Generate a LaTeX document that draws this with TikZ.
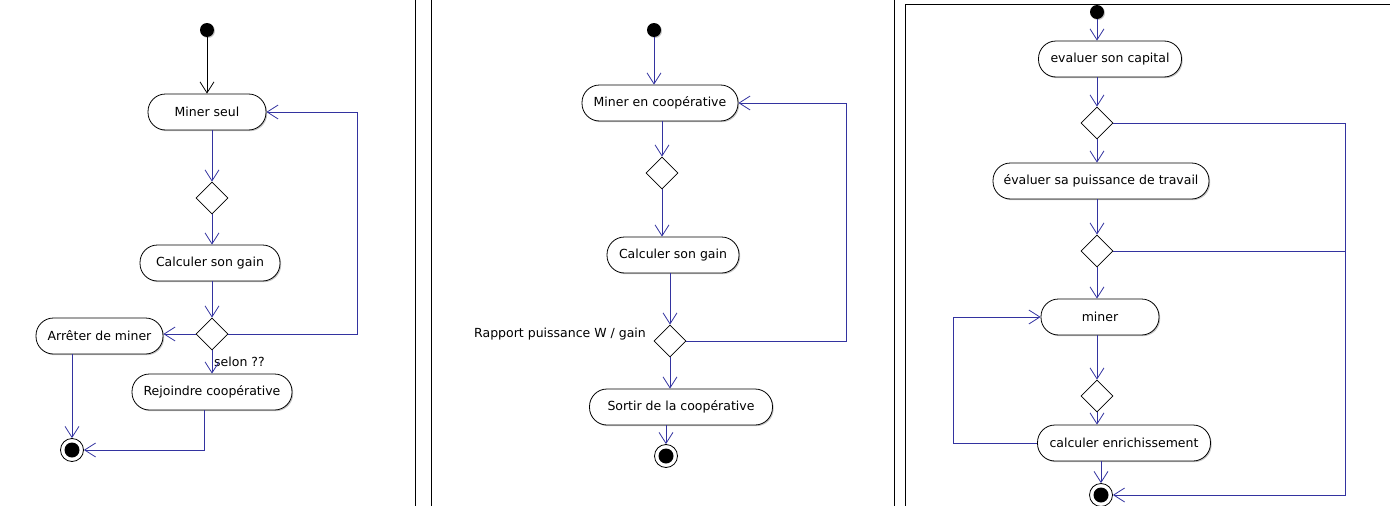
\documentclass[tikz,border=0pt]{standalone}
\usepackage{fontspec}
\setmainfont{DejaVu Sans}
\usetikzlibrary{arrows.meta,shapes.geometric,shadows}
\definecolor{flowblue}{RGB}{51,51,160}
\tikzset{
  act/.style={draw=black, line width=0.8pt, fill=white, rounded corners=17.5pt,
    minimum height=36pt, inner sep=0pt, font=\fontsize{12.5}{14}\selectfont,
    drop shadow={shadow xshift=1.2pt, shadow yshift=-1.2pt, fill=black!45, opacity=0.5}},
  dec/.style={diamond, draw=black, line width=0.8pt, fill=white,
    minimum width=32pt, minimum height=32pt, inner sep=0pt},
  initn/.style={circle, fill=black, minimum size=14pt, inner sep=0pt,
    drop shadow={shadow xshift=1pt, shadow yshift=-1pt, fill=black!45, opacity=0.5}},
  finaln/.style={circle, draw=black, fill=white, line width=0.8pt, minimum size=23pt, inner sep=0pt,
    path picture={\fill[black] (path picture bounding box.center) circle (7.5pt);}},
  flow/.style={draw=flowblue, line width=0.8pt, -{Straight Barb[length=11pt,width=14pt]}},
  flowk/.style={draw=black, line width=0.8pt, -{Straight Barb[length=11pt,width=14pt]}},
  plainflow/.style={draw=flowblue, line width=0.8pt},
  panel/.style={draw=black, line width=1pt},
  lbl/.style={font=\fontsize{12.5}{14}\selectfont, inner sep=0pt}
}
\begin{document}
\begin{tikzpicture}[x=1pt,y=-1pt]
\useasboundingbox (0,0) rectangle (1390,506);
% panel lines
\draw[panel] (415,0) -- (415,506);
\draw[panel] (431,0) -- (431,506);
\draw[panel] (894,0) -- (894,506);
\draw[panel] (905,506) -- (905,4) -- (1390,4);

% ---------- left panel
\node[initn] (i1) at (207,30) {};
\node[act, minimum width=118pt] (ms) at (207,112) {Miner seul};
\node[dec] (d1) at (212,198) {};
\node[act, minimum width=140pt] (cg) at (210,263) {Calculer son gain};
\node[dec] (d2) at (212,334) {};
\node[act, minimum width=127pt] (am) at (99.5,336) {Arrêter de miner};
\node[act, minimum width=160pt] (rc) at (212,392) {Rejoindre coopérative};
\node[finaln] (f1) at (72,450) {};
\node[lbl, anchor=west] (sel) at (214,362) {selon ??};
\coordinate (r1) at (357,0);
\coordinate (c2) at (204,0);

\draw[flowk] (i1) -- (ms);
\draw[flow] (ms.south -| d1) -- (d1.north);
\draw[flow] (d1.south) -- (cg.north -| d1);
\draw[flow] (cg.south -| d2) -- (d2.north);
\draw[flow] (d2.west) -- (d2.west -| am.east);
\draw[flow] (d2.east) -| (r1 |- ms.east) -- (ms.east);
\draw[flow] (d2.south) -- (rc.north -| d2);
\draw[flow] (am.south -| f1) -- (f1.north);
\draw[flow] (rc.south -| c2) |- (f1.east);

% ---------- middle panel
\node[initn] (i2) at (654,30) {};
\node[act, minimum width=156pt] (mc) at (660,103) {Miner en coopérative};
\node[dec] (d3) at (662,173) {};
\node[act, minimum width=132pt] (cg2) at (673,255) {Calculer son gain};
\node[dec] (d4) at (670,341) {};
\node[lbl, anchor=east] (rap) at (646,334) {Rapport puissance W / gain};
\node[act, minimum width=183pt] (so) at (681,407) {Sortir de la coopérative};
\node[finaln] (f2) at (666,456) {};
\coordinate (r2) at (846,0);

\draw[flow] (i2) -- (mc.north -| i2);
\draw[flow] (mc.south -| d3) -- (d3.north);
\draw[flow] (d3.south) -- (cg2.north -| d3);
\draw[flow] (cg2.south -| d4) -- (d4.north);
\draw[flow] (d4.east) -| (r2 |- mc.east) -- (mc.east);
\draw[flow] (d4.south) -- (so.north -| d4);
\draw[flow] (so.south -| f2) -- (f2.north);

% ---------- right panel
\node[initn] (i3) at (1097,12) {};
\node[act, minimum width=143pt] (ec) at (1110,59) {evaluer son capital};
\node[dec] (d5) at (1097,123) {};
\node[act, minimum width=216pt] (ep) at (1101,181) {évaluer sa puissance de travail};
\node[dec] (d6) at (1097,251) {};
\node[act, minimum width=118pt] (mi) at (1100,317) {miner};
\node[dec] (d7) at (1097,396) {};
\node[act, minimum width=173pt] (ce) at (1124,443) {calculer enrichissement};
\node[finaln] (f3) at (1101,495) {};
\coordinate (r3) at (1345,0);
\coordinate (l3) at (953,0);

\draw[flow] (i3) -- (ec.north -| i3);
\draw[flow] (ec.south -| d5) -- (d5.north);
\draw[flow] (d5.south) -- (ep.north -| d5);
\draw[flow] (ep.south -| d6) -- (d6.north);
\draw[flow] (d6.south) -- (mi.north -| d6);
\draw[flow] (mi.south -| d7) -- (d7.north);
\draw[flow] (d7.south) -- (ce.north -| d7);
\draw[flow] (ce.west) -| (l3 |- mi.west) -- (mi.west);
\draw[flow] (ce.south -| f3) -- (f3.north);
\draw[flow] (d5.east) -| (r3 |- f3.east) -- (f3.east);
\draw[plainflow] (d6.east) -- (d6.east -| r3);
\end{tikzpicture}
\end{document}
